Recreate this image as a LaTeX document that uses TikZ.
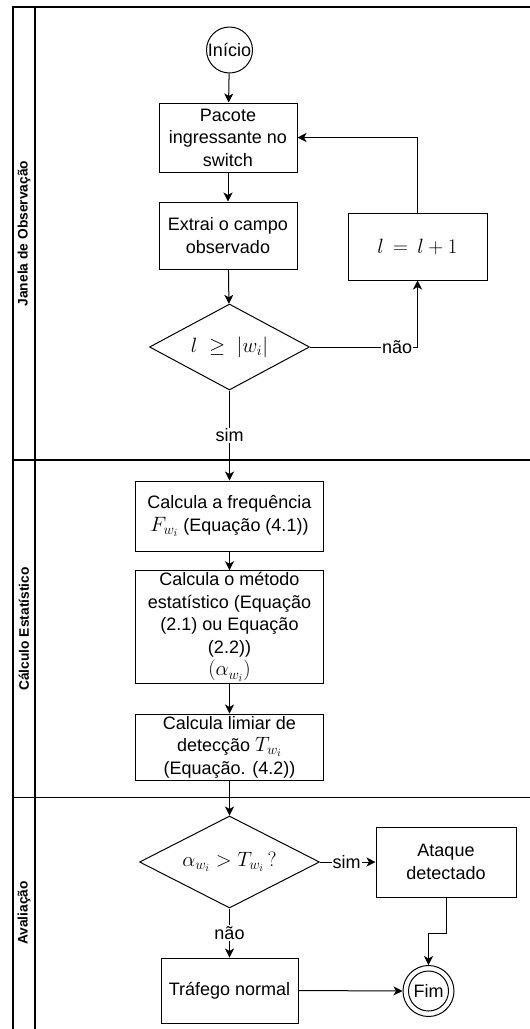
\documentclass[tikz,border=0pt]{standalone}
\usepackage{fontspec}
\setmainfont{Liberation Sans}
\usetikzlibrary{shapes.geometric,arrows.meta,calc}
\begin{document}
\begin{tikzpicture}[x=1pt,y=-1pt,
  every node/.style={font=\fontsize{18}{22.5}\selectfont},
  box/.style={draw, rectangle, align=center, line width=1pt, inner sep=2pt},
  dec/.style={draw, diamond, line width=1pt, inner sep=0pt},
  term/.style={draw, circle, line width=1pt, inner sep=0pt},
  lbl/.style={fill=white, inner sep=1pt},
  flow/.style={-{Stealth[length=9pt,width=9pt,inset=2.5pt]}, line width=1pt},
  lane/.style={line width=1.4pt},
  lanetitle/.style={rotate=90, font=\bfseries\fontsize{13.8}{16}\selectfont}]
\useasboundingbox (0,0) rectangle (530,1029);

% swimlanes
\draw[lane] (13,1029) -- (13,7) -- (530,7);
\draw[lane] (35,7) -- (35,1029);
\draw[lane] (13,460) -- (530,460);
\draw[lane] (13,797.5) -- (530,797.5);
\node[lanetitle] (t1) at (24,233.5) {Janela de Observação};
\node[lanetitle] (t2) at (24,629) {Cálculo Estatístico};
\node[lanetitle] (t3) at (24,913) {Avaliação};

% nodes
\node[term, minimum size=46pt] (ini) at (229.5,50) {Início};
\node[box, minimum width=138pt, minimum height=69pt] (pac) at (228,137.5) {Pacote\\ingressante no\\switch};
\node[box, minimum width=138pt, minimum height=67pt] (ext) at (228,235.5) {Extrai o campo\\observado};
\node[box, minimum width=139pt, minimum height=67pt] (inc) at (417.5,246.5) {\fontsize{22}{24}\selectfont$l\,=\,l+1$};
\node[dec, minimum width=160pt, minimum height=86pt, aspect=1.86] (d1) at (229.5,347) {\fontsize{22}{24}\selectfont$l\;\geq\;|w_i|$};
\node[box, minimum width=188pt, minimum height=70pt] (frq) at (229.5,516) {Calcula a frequência\\{\fontsize{22}{22}\selectfont$F_{w_i}$} (Equação (4.1))};
\node[box, minimum width=188pt, minimum height=112pt] (met) at (229.5,627) {Calcula o método\\estatístico (Equação\\(2.1) ou Equação\\(2.2))\\{\fontsize{21}{22}\selectfont$(\alpha_{w_i})$}};
\node[box, minimum width=188pt, minimum height=66pt] (lim) at (229.5,747) {Calcula limiar de\\detecção {\fontsize{22}{22}\selectfont$T_{w_i}$}\\(Equação. (4.2))};
\node[dec, minimum width=180pt, minimum height=92pt, aspect=1.96] (d2) at (229.5,862) {\fontsize{22}{24}\selectfont$\alpha_{w_i} > T_{w_i}\,?$};
\node[box, minimum width=140pt, minimum height=70pt] (atk) at (446,862) {Ataque\\detectado};
\node[box, minimum width=137pt, minimum height=65pt] (trf) at (229.5,990.5) {Tráfego normal};
\node[term, minimum size=51pt] (fim) at (428.5,991) {};
\node[term, minimum size=40pt] (fimi) at (fim.center) {Fim};

% connectors
\draw[flow] (ini) -- (pac);
\draw[flow] (pac) -- (ext);
\draw[flow] (ext) -- (d1);
\draw[flow] (d1.east) -- node[lbl, pos=0.81] {não} (d1.east -| inc.south) -- (inc.south);
\draw[flow] (inc.north) |- (pac.east);
\draw[flow] (d1.south) -- node[lbl, pos=0.5] {sim} (frq.north);
\draw[flow] (frq) -- (met);
\draw[flow] (met) -- (lim);
\draw[flow] (lim.south) -- (d2.north);
\draw[flow] (d2.east) -- node[lbl, pos=0.48] {sim} (atk.west);
\draw[flow] (d2.south) -- node[lbl, pos=0.5] {não} (trf.north);
\coordinate (bend) at ($(atk.south)+(0,36)$);
\draw[flow] (atk.south) -- (bend) -| (fim.north);
\draw[flow] (trf.east) -- (fim.west);
\end{tikzpicture}
\end{document}
